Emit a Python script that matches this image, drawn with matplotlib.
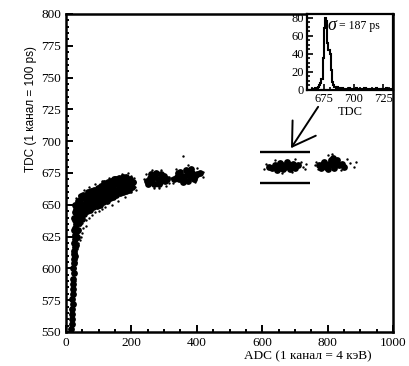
import matplotlib
matplotlib.use("Agg")
import matplotlib.pyplot as plt
from matplotlib.ticker import MultipleLocator

plt.rcParams["font.family"] = ["Liberation Serif", "DejaVu Serif"]

# main ADC-TDC scatter (dense core)
core_adc = [16, 18, 17, 19, 18, 20, 19, 21, 20, 22, 21, 23, 22, 24, 23, 25, 24, 26, 25, 28,
            26, 30, 27, 32, 29, 34, 28, 31, 26, 36, 27, 30, 33, 36, 40, 23, 24,
            35, 36, 34, 37, 40, 48,
            44, 46, 45, 43, 47,
            55, 54, 56, 55, 53,
            64, 66, 65, 63, 67,
            74, 76, 75, 73, 77,
            84, 86, 85, 83, 87,
            94, 96, 95, 93, 97,
            104, 106, 105, 103, 107,
            114, 116, 115, 113, 117,
            124, 126, 125, 123, 127,
            134, 136, 135, 133, 137,
            144, 146, 145, 143, 147,
            154, 156, 155, 153,
            164, 166, 165, 163,
            174, 176, 175, 173,
            184, 186, 185, 183,
            194, 196, 195,
            203, 206,
            248, 256, 264, 272, 280, 288, 296, 304, 260, 276, 292, 268, 284, 300, 310, 252,
            330, 338, 346, 354, 362, 370, 378, 386, 394, 402, 350, 366, 382, 358, 374, 390, 342, 410,
            630, 640, 650, 660, 670, 680, 690, 700, 645, 665, 685, 655, 675, 695, 710, 620,
            775, 785, 795, 805, 815, 825, 835, 845, 790, 810, 830, 800, 820, 850, 780, 815]
core_tdc = [552, 556, 560, 564, 568, 572, 576, 580, 584, 588, 592, 596, 600, 604, 607, 611, 614, 617, 620, 623,
            626, 629, 632, 635, 638, 641, 644, 647, 650, 644, 610, 618, 625, 630, 636, 630, 640,
            641, 645, 649, 653, 637, 639,
            642, 646, 650, 654, 657,
            643, 647, 651, 655, 658,
            645, 649, 653, 657, 660,
            646, 650, 654, 658, 661,
            648, 652, 656, 660, 662,
            649, 653, 657, 661, 663,
            650, 654, 658, 662, 665,
            652, 656, 660, 664, 667,
            653, 657, 661, 665, 668,
            655, 659, 663, 667, 669,
            656, 660, 664, 668, 670,
            658, 662, 666, 670,
            659, 663, 667, 671,
            660, 664, 668, 672,
            661, 665, 669, 672,
            662, 666, 670,
            664, 668,
            669, 671, 668, 672, 670, 668, 671, 669, 674, 675, 674, 666, 666, 673, 670, 666,
            670, 672, 670, 673, 671, 674, 672, 675, 673, 674, 676, 677, 678, 668, 669, 670, 675, 675,
            679, 681, 679, 681, 680, 682, 680, 679, 677, 678, 678, 683, 684, 682, 681, 680,
            681, 682, 680, 682, 681, 683, 681, 682, 684, 685, 685, 678, 679, 680, 679, 687]

# sparse points around the clouds
halo_adc = [38, 42, 50, 60, 48, 70, 80, 90, 100, 110, 120, 140, 160, 180, 200, 210, 212, 208,
            190, 170, 150, 130, 110, 90, 70, 55, 40, 30, 22, 35, 45, 215, 198, 60, 28, 30,
            32, 38, 44, 26, 52,
            240, 244, 316, 314, 262, 290, 285, 270, 305,
            322, 326, 400, 418, 420, 372, 359, 335, 395,
            607, 612, 725, 735, 718, 700, 640, 660, 690, 730,
            760, 766, 870, 880, 888, 800, 812, 858, 840, 770]
halo_tdc = [630, 634, 636, 638, 628, 640, 642, 644, 645, 647, 648, 650, 653, 656, 660, 664, 668, 671,
            675, 674, 672, 671, 669, 666, 664, 662, 658, 655, 620, 615, 625, 662, 673, 633, 600, 605,
            612, 620, 622, 590, 632,
            670, 674, 672, 667, 677, 677, 663, 663, 665,
            671, 667, 679, 676, 672, 681, 688, 678, 668,
            678, 682, 680, 682, 684, 686, 685, 675, 676, 678,
            681, 684, 683, 680, 684, 689, 690, 686, 677, 678]

# inset histogram of TDC (1-channel bins from 661)
hist_start = 661
hist_counts = [0, 0, 0, 0, 1, 0, 1, 2, 1, 3, 6, 8, 12, 35, 68, 80, 76, 52, 44, 40,
               22, 9, 5, 3, 2, 3, 1, 2, 1, 2, 1, 0, 1, 1, 0, 2, 1, 0, 1, 0,
               1, 2, 0, 1, 0, 1, 1, 0, 2, 1, 0, 1, 0, 1, 1, 0, 1, 0, 2, 1,
               0, 1, 0, 1, 1, 0, 2, 1, 0, 1, 0]

gate_tdc = [691.7, 667.4]
gate_adc = [592, 745]

fig = plt.figure(figsize=(4.09, 3.66), dpi=100)
ax = fig.add_axes([0.1614, 0.0929, 0.7995, 0.8689])

ax.scatter(core_adc, core_tdc, s=24, c="black", marker="o", linewidths=0)
ax.scatter(halo_adc, halo_tdc, s=3, c="black", marker="o", linewidths=0)
ax.hlines(gate_tdc, gate_adc[0], gate_adc[1], colors="black", lw=1.7)
ax.annotate("", xy=(688, 694.5), xytext=(771, 727),
            arrowprops=dict(arrowstyle="->,head_length=0.8,head_width=0.5",
                            lw=1.4, color="black", mutation_scale=20, shrinkA=0, shrinkB=0))

ax.set_xlim(0, 1000)
ax.set_ylim(550, 800)
ax.xaxis.set_major_locator(MultipleLocator(200))
ax.xaxis.set_minor_locator(MultipleLocator(50))
ax.yaxis.set_major_locator(MultipleLocator(25))
ax.yaxis.set_minor_locator(MultipleLocator(5))
ax.tick_params(which="both", direction="in", labelsize=9.5, width=1.4)
ax.tick_params(which="major", length=5)
ax.tick_params(which="minor", length=2.5)
for sp in ax.spines.values():
    sp.set_linewidth(1.8)

ax.set_xlabel("ADC (1 канал = 4 кэВ)", fontsize=9.5)
ax.xaxis.set_label_coords(0.738, -0.058)
ax.set_ylabel("TDC (1 канал = 100 ps)", fontsize=8.5,
              family=["Liberation Sans", "DejaVu Sans"])
ax.yaxis.set_label_coords(-0.09, 0.70)

# inset
ins = fig.add_axes([0.7506, 0.7541, 0.2103, 0.2077])
edges = [hist_start + i for i in range(len(hist_counts) + 1)]
ins.stairs(hist_counts, edges, color="black", lw=1.5)
ins.set_xlim(661, 733)
ins.set_ylim(0, 84)
ins.xaxis.set_major_locator(MultipleLocator(25))
ins.xaxis.set_minor_locator(MultipleLocator(5))
ins.yaxis.set_major_locator(MultipleLocator(20))
ins.yaxis.set_minor_locator(MultipleLocator(5))
ins.tick_params(which="both", direction="in", labelsize=9, width=1.2, pad=2)
ins.tick_params(which="major", length=4)
ins.tick_params(which="minor", length=2)
for sp in ins.spines.values():
    sp.set_linewidth(1.6)
ins.set_xlabel("TDC", fontsize=9, labelpad=1)
ins.text(678.5, 71, "σ", fontsize=13, style="italic", va="center", ha="left")
ins.text(688.0, 71, "= 187 ps", fontsize=8.5, va="center", ha="left", clip_on=True)

fig.savefig("out.png", dpi=100)
